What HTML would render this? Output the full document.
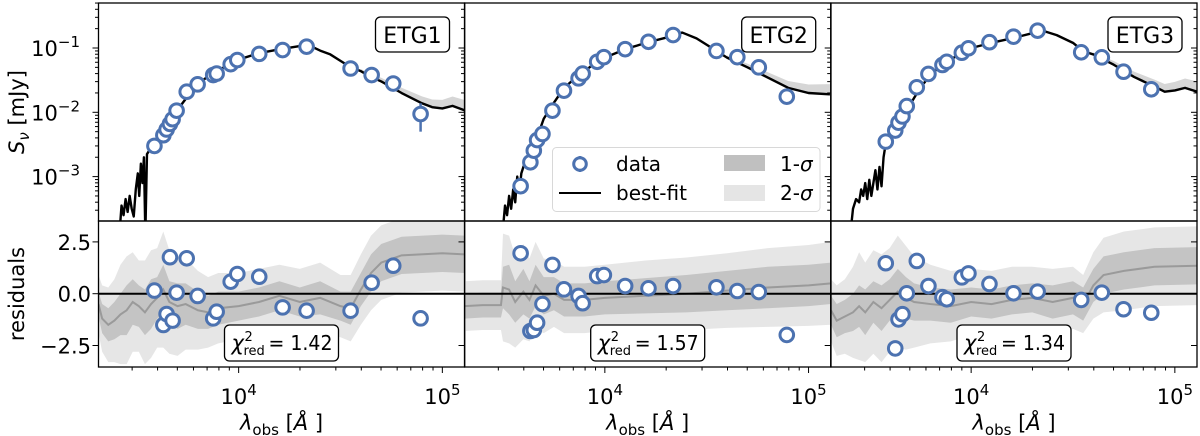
<!DOCTYPE html>
<html><head><meta charset="utf-8">
<style>
html,body{margin:0;padding:0;background:#fff;}
svg{display:block;font-family:"DejaVu Sans","Liberation Sans",sans-serif;}
</style></head>
<body>
<svg id="chart" width="1200" height="436" viewBox="0 0 1200 436" xmlns="http://www.w3.org/2000/svg"></svg>
<script>
// ---------- DATA ----------
const panelNames = ["ETG1","ETG2","ETG3"];
const chiValues = ["1.42","1.57","1.34"];
const xTickLabels = ["4","5"];
const yFluxTickExps = ["−1","−2","−3"];
const yResTickLabels = ["2.5","0.0","−2.5"];
const yResTickValues = [2.5,0,-2.5];

const lam1 = [3860,4270,4430,4600,4740,4960,5560,6290,7500,7800,9140,9850,12620,16440,21560,35450,44970,57400,78200];
const flux1 = [0.0030,0.0044,0.0054,0.0066,0.0078,0.0106,0.0209,0.0272,0.038,0.040,0.056,0.065,0.081,0.093,0.105,0.048,0.038,0.028,0.0094];
const err1 = [0.0002,0.0002,0.0002,0.0002,0.0003,0.0004,0.0006,0.0008,0.001,0.001,0.001,0.001,0.002,0.002,0.002,0.002,0.002,0.003,0.0044];
const res1 = [0.15,-1.51,-0.98,1.76,-1.30,0.05,1.71,-0.11,-1.19,-0.87,0.58,0.95,0.82,-0.66,-0.82,-0.82,0.53,1.35,-1.19];

const lam2 = [3860,4310,4480,4650,4940,5530,6300,7430,7780,9170,9890,12580,16380,21630,35300,44700,57000,78200];
const flux2 = [0.00071,0.00167,0.00253,0.0037,0.0046,0.0106,0.0217,0.0337,0.040,0.061,0.072,0.096,0.125,0.159,0.090,0.072,0.050,0.0175];
const err2 = [0.0001,0.0001,0.0002,0.0002,0.0002,0.0004,0.0006,0.001,0.001,0.001,0.001,0.002,0.002,0.002,0.002,0.002,0.002,0.002];
const res2 = [1.95,-1.80,-1.75,-1.40,-0.50,1.39,0.21,-0.11,-0.46,0.85,0.90,0.37,0.26,0.37,0.31,0.13,0.08,-1.99];

const lam3 = [3810,4240,4400,4600,4830,5410,6170,7230,7590,9000,9700,12300,16140,21200,34700,43800,56000,76600];
const flux3 = [0.0035,0.0052,0.0069,0.0086,0.0125,0.0245,0.0395,0.0545,0.061,0.0845,0.099,0.123,0.150,0.186,0.0857,0.0716,0.0428,0.0228];
const err3 = [0.0003,0.0003,0.0003,0.0003,0.0004,0.0006,0.001,0.001,0.001,0.001,0.001,0.002,0.002,0.002,0.002,0.002,0.002,0.003];
const res3 = [1.47,-2.64,-1.24,-0.99,0.02,1.58,0.37,-0.17,-0.27,0.79,0.98,0.47,0.02,0.10,-0.30,0.05,-0.75,-0.92];

// best-fit model: [log10 lambda, log10 S]
const model1 = [[3.417,-3.8],[3.425,-3.45],[3.435,-3.6],[3.445,-3.35],[3.455,-3.55],[3.465,-3.3],[3.475,-3.5],[3.485,-3.62],[3.495,-3.2],[3.505,-2.95],[3.512,-3.3],[3.52,-2.8],[3.528,-3.1],[3.535,-2.7],[3.542,-3.9],[3.55,-2.65],[3.57,-2.55],[3.6,-2.42],[3.65,-2.2],[3.7,-1.96],[3.75,-1.75],[3.8,-1.56],[3.85,-1.44],[3.9,-1.35],[3.95,-1.26],[4.0,-1.18],[4.1,-1.08],[4.2,-1.02],[4.3,-0.97],[4.34,-0.95],[4.4,-1.04],[4.45,-1.1],[4.5,-1.2],[4.55,-1.3],[4.6,-1.36],[4.65,-1.45],[4.7,-1.52],[4.8,-1.70],[4.9,-1.86],[4.95,-1.92],[5.0,-1.94],[5.05,-1.90],[5.11,-1.97]];
const model2 = [[3.50,-3.8],[3.51,-3.45],[3.52,-3.6],[3.53,-3.3],[3.54,-3.5],[3.55,-3.2],[3.56,-3.4],[3.57,-3.0],[3.58,-3.25],[3.59,-2.95],[3.6,-2.85],[3.62,-2.7],[3.65,-2.55],[3.7,-2.1],[3.75,-1.85],[3.8,-1.62],[3.85,-1.48],[3.9,-1.36],[3.95,-1.24],[4.0,-1.15],[4.1,-1.02],[4.2,-0.92],[4.3,-0.84],[4.38,-0.76],[4.45,-0.85],[4.5,-0.95],[4.55,-1.05],[4.6,-1.15],[4.7,-1.3],[4.8,-1.46],[4.9,-1.62],[5.0,-1.70],[5.105,-1.72]];
const model3 = [[3.41,-3.8],[3.42,-3.5],[3.435,-3.35],[3.45,-3.4],[3.46,-3.2],[3.47,-3.3],[3.48,-3.1],[3.49,-3.35],[3.5,-3.05],[3.51,-3.3],[3.52,-3.1],[3.53,-2.9],[3.54,-3.2],[3.55,-2.85],[3.56,-3.15],[3.57,-2.7],[3.58,-2.5],[3.62,-2.3],[3.65,-2.15],[3.7,-1.88],[3.75,-1.62],[3.8,-1.42],[3.85,-1.28],[3.9,-1.18],[3.95,-1.08],[4.0,-1.0],[4.1,-0.92],[4.2,-0.85],[4.3,-0.77],[4.35,-0.73],[4.42,-0.8],[4.5,-0.92],[4.55,-1.05],[4.6,-1.1],[4.7,-1.26],[4.8,-1.45],[4.9,-1.6],[4.95,-1.68],[5.0,-1.66],[5.05,-1.62],[5.11,-1.68]];

// residual bands: [log10 lambda, median, 1-sigma half width, 2-sigma half width]
const band1 = [[3.312,-0.5,0.6,1.4],[3.33,-1.2,0.7,1.6],[3.36,-1.5,0.8,1.8],[3.39,-1.3,0.9,2.0],[3.42,-1.0,1.0,2.4],[3.45,-0.8,1.2,2.6],[3.48,-0.4,1.1,2.4],[3.51,-0.6,1.0,2.2],[3.54,-0.9,1.1,2.5],[3.57,-0.5,1.2,2.6],[3.6,-0.2,1.0,2.4],[3.63,0.2,1.2,2.8],[3.66,-0.4,1.0,2.5],[3.7,-0.6,1.1,2.4],[3.74,-0.5,1.0,2.2],[3.8,-0.8,0.9,1.9],[3.85,-0.9,0.8,1.7],[3.9,-0.7,0.8,1.7],[4.0,-0.6,0.7,1.6],[4.1,-0.4,0.7,1.6],[4.2,-0.1,0.7,1.5],[4.3,-0.4,0.7,1.6],[4.4,-0.2,0.8,1.7],[4.5,-0.6,0.7,1.5],[4.55,-0.7,0.8,1.6],[4.6,0.2,0.8,1.7],[4.65,1.0,0.9,1.8],[4.7,1.5,0.9,1.8],[4.8,1.85,0.9,1.8],[5.0,1.95,0.9,1.8],[5.11,1.9,0.9,1.8]];
const band2 = [[3.312,-0.6,0.6,1.2],[3.4,-0.55,0.6,1.2],[3.49,-0.55,0.6,1.2],[3.5,0.3,1.0,2.6],[3.53,0.2,1.2,2.6],[3.56,-0.4,1.0,2.2],[3.6,0.1,1.1,2.3],[3.63,-0.3,0.9,2.0],[3.66,0.4,1.0,2.1],[3.7,-0.1,0.9,1.8],[3.75,0.0,0.8,1.6],[3.8,-0.3,0.8,1.6],[3.9,-0.3,0.8,1.6],[4.0,-0.2,0.8,1.6],[4.2,-0.1,0.85,1.7],[4.4,0.0,0.9,1.75],[4.6,0.15,0.95,1.8],[4.8,0.3,1.0,1.9],[5.0,0.4,1.0,1.95],[5.11,0.5,1.0,2.0]];
const band3 = [[3.312,-0.8,0.7,1.5],[3.34,-1.3,0.8,1.7],[3.38,-1.1,0.8,1.8],[3.42,-0.9,0.9,2.2],[3.45,-0.6,1.0,2.6],[3.48,-0.9,1.1,2.4],[3.52,-0.4,1.0,2.5],[3.56,-0.7,1.1,2.6],[3.6,-0.3,1.0,2.5],[3.64,0.1,1.1,2.7],[3.68,-0.2,1.0,2.5],[3.72,-0.4,0.9,2.2],[3.8,-0.5,0.8,1.9],[3.9,-0.6,0.8,1.7],[4.0,-0.4,0.7,1.6],[4.1,-0.5,0.7,1.6],[4.2,-0.3,0.7,1.6],[4.3,-0.2,0.7,1.5],[4.4,-0.4,0.8,1.6],[4.5,-0.2,0.8,1.5],[4.55,-0.5,0.8,1.4],[4.6,0.4,0.8,1.6],[4.65,0.9,0.9,1.8],[4.75,1.1,0.9,1.9],[4.9,1.3,0.9,1.9],[5.11,1.35,0.9,1.9]];

const panelLams = [lam1,lam2,lam3];
const panelFluxes = [flux1,flux2,flux3];
const panelErrs = [err1,err2,err3];
const panelRes = [res1,res2,res3];
const panelModels = [model1,model2,model3];
const panelBands = [band1,band2,band3];

// ---------- LAYOUT ----------
const NS="http://www.w3.org/2000/svg";
const svg=document.getElementById('chart');
const lefts=[98.5,464.7,831];
const PW=366, TOP=3, MID=221, BOT=367;
const LOGMIN=3.312, DEC=203.7;
const blue="#4c72b0";
function xS(p,logl){return lefts[p]+(logl-LOGMIN)*DEC;}
function yF(logs){return 48+(-1-logs)*64.3;}
function yR(r){return 293.7-r*20.72;}
function mk(tag,attrs,parent){const e=document.createElementNS(NS,tag);for(const k in attrs)e.setAttribute(k,attrs[k]);(parent||svg).appendChild(e);return e;}

const defs=mk('defs',{});
for(let p=0;p<3;p++){
  const c1=mk('clipPath',{id:'ct'+p},defs);mk('rect',{x:lefts[p],y:TOP,width:PW,height:MID-TOP},c1);
  const c2=mk('clipPath',{id:'cb'+p},defs);mk('rect',{x:lefts[p],y:MID,width:PW,height:BOT-MID},c2);
}

for(let p=0;p<3;p++){
  const L=lefts[p];
  const g=mk('g',{});
  
  

  const gb=mk('g',{'clip-path':'url(#cb'+p+')'},g);
  
  
  const band=panelBands[p];
  [[3,'#e6e6e6','2-sigma-band'],[2,'#c4c4c4','1-sigma-band']].forEach(([idx,col,name])=>{
    let up=band.map(b=>xS(p,b[0])+','+yR(b[1]+b[idx]));
    let dn=band.slice().reverse().map(b=>xS(p,b[0])+','+yR(b[1]-b[idx]));
    const poly=mk('polygon',{points:up.concat(dn).join(' '),fill:col},gb);
    
    
  });
  const med=mk('polyline',{points:band.map(b=>xS(p,b[0])+','+yR(b[1])).join(' '),fill:'none',stroke:'#9a9a9a','stroke-width':2},gb);
  
  
  const zl=mk('line',{x1:L,x2:L+PW,y1:yR(0),y2:yR(0),stroke:'#000','stroke-width':2},g);
  
  

  const gm=mk('g',{'clip-path':'url(#ct'+p+')'},g);
  const model=panelModels[p];
  const mb=mk('polygon',{points:model.filter(m=>m[0]>4.55).map(m=>xS(p,m[0])+','+yF(m[1]+0.02+(m[0]-4.55)*0.25)).concat(model.filter(m=>m[0]>4.55).reverse().map(m=>xS(p,m[0])+','+yF(m[1]-0.02))).join(' '),fill:'#d6d6d6'},gm);
  
  
  const ml=mk('polyline',{points:model.map(m=>xS(p,m[0])+','+yF(m[1])).join(' '),fill:'none',stroke:'#000','stroke-width':2.4,'stroke-linejoin':'round'},gm);
  
  

  const lams=panelLams[p],fl=panelFluxes[p],er=panelErrs[p],rs=panelRes[p];
  for(let i=0;i<lams.length;i++){
    const x=xS(p,Math.log10(lams[i]));
    const y=yF(Math.log10(fl[i]));
    const lo=Math.max(fl[i]-er[i],1e-5);
    const eb=mk('line',{x1:x,x2:x,y1:yF(Math.log10(fl[i]+er[i])),y2:yF(Math.log10(lo)),stroke:blue,'stroke-width':2.5},g);
    
    
    const c=mk('circle',{cx:x,cy:y,r:6.8,fill:'#fff',stroke:blue,'stroke-width':3},g);
    
    
    const c2=mk('circle',{cx:x,cy:yR(rs[i]),r:6.8,fill:'#fff',stroke:blue,'stroke-width':3},g);
    
    
  }

  mk('rect',{x:L,y:TOP,width:PW,height:MID-TOP,fill:'none',stroke:'#000','stroke-width':1.3},g);
  mk('rect',{x:L,y:MID,width:PW,height:BOT-MID,fill:'none',stroke:'#000','stroke-width':1.3},g);

  for(let d=-4;d<=0;d++){for(let k=1;k<=9;k++){
    const v=Math.log10(k)+d; if(v<-3.69||v>-0.3)continue;
    const y=yF(v), len=k===1?6:3.5;
    mk('line',{x1:L+PW-len,x2:L+PW,y1:y,y2:y,stroke:'#000','stroke-width':1},g);
    if(p===0) mk('line',{x1:L-len,x2:L,y1:y,y2:y,stroke:'#000','stroke-width':1},g);
  }}
  yResTickValues.forEach(v=>{
    mk('line',{x1:L+PW-6,x2:L+PW,y1:yR(v),y2:yR(v),stroke:'#000','stroke-width':1},g);
    if(p===0) mk('line',{x1:L-6,x2:L,y1:yR(v),y2:yR(v),stroke:'#000','stroke-width':1},g);
  });
  for(let d=3;d<=5;d++){for(let k=1;k<=9;k++){
    const v=Math.log10(k)+d; if(v<LOGMIN||v>LOGMIN+PW/DEC)continue;
    const x=xS(p,v), len=k===1?6:3.5;
    mk('line',{x1:x,x2:x,y1:BOT,y2:BOT+len,stroke:'#000','stroke-width':1},g);
  }}
  xTickLabels.forEach(e=>{
    const t=mk('text',{x:xS(p,+e),y:404,'font-size':21,'text-anchor':'middle'},g);
    
    
    t.innerHTML='10<tspan dy="-9" font-size="15">'+e+'</tspan>';
  });
  const xl=mk('text',{x:L+PW/2,y:430,'font-size':21,'text-anchor':'middle'},g);
  
  
  xl.innerHTML='<tspan font-style="italic">λ</tspan><tspan font-size="15" dy="5">obs</tspan><tspan dy="-5"> [</tspan><tspan font-style="italic">Å</tspan> ]';

  const nb=mk('g',{},g);
  
  
  mk('rect',{x:L+PW-89,y:17,width:74,height:35,rx:5,fill:'#fff',stroke:'#000','stroke-width':1.3},nb);
  const nt=mk('text',{x:L+PW-52,y:43,'font-size':22,'text-anchor':'middle'},nb);
  nt.textContent=panelNames[p];

  const cb=mk('g',{},g);
  
  
  const cx0=L+126;
  mk('rect',{x:cx0,y:325,width:114,height:36,rx:5,fill:'#fff',stroke:'#000','stroke-width':1.3},cb);
  const t1=mk('text',{x:cx0+7,y:350,'font-size':21,'font-style':'italic'},cb);
  t1.textContent='χ';
  const t2=mk('text',{x:cx0+20,y:341,'font-size':13},cb);
  t2.textContent='2';
  const t3=mk('text',{x:cx0+19,y:355,'font-size':13},cb);
  t3.textContent='red';
  const t4=mk('text',{x:cx0+44,y:350,'font-size':20,textLength:64,lengthAdjust:'spacingAndGlyphs'},cb);
  t4.textContent='= '+chiValues[p];
}

yFluxTickExps.forEach((e,i)=>{
  const t=mk('text',{x:80,y:yF(-1-i)+8,'font-size':21,'text-anchor':'end'});
  
  
  t.innerHTML='10<tspan dy="-9" font-size="15">'+e+'</tspan>';
});
yResTickLabels.forEach((s,i)=>{
  const t=mk('text',{x:91,y:yR(yResTickValues[i])+8,'font-size':21,'text-anchor':'end'});
  
  
  t.textContent=s;
});
const yt1=mk('text',{x:0,y:0,'font-size':21,'text-anchor':'middle',transform:'translate(24,112) rotate(-90)'});


yt1.innerHTML='<tspan font-style="italic">S</tspan><tspan font-style="italic" font-size="15" dy="5">ν</tspan><tspan dy="-5"> [mJy]</tspan>';
const yt2=mk('text',{x:0,y:0,'font-size':21,'text-anchor':'middle',transform:'translate(24,294) rotate(-90)'});


yt2.textContent='residuals';

const lg=mk('g',{});


mk('rect',{x:552.5,y:147.5,width:267.5,height:64,rx:4,fill:'#fff','fill-opacity':0.85,stroke:'#d8d8d8','stroke-width':1},lg);
mk('line',{x1:580,x2:580,y1:156,y2:172,stroke:blue,'stroke-width':2.5},lg);
const lm=mk('circle',{cx:580,cy:164,r:6.3,fill:'#fff',stroke:blue,'stroke-width':3},lg);


mk('line',{x1:559,x2:601,y1:193,y2:193,stroke:'#000','stroke-width':2},lg);
mk('rect',{x:724,y:155,width:41,height:16,fill:'#c0c0c0'},lg);
mk('rect',{x:724,y:185,width:41,height:16,fill:'#e5e5e5'},lg);
[['data',616,171],['best-fit',616,200]].forEach(([s,x,y])=>{const t=mk('text',{x:x,y:y,'font-size':20},lg);t.textContent=s;});
[['1-',780,171],['2-',780,200]].forEach(([s,x,y])=>{const t=mk('text',{x:x,y:y,'font-size':20},lg);t.innerHTML=s+'<tspan font-style="italic">σ</tspan>';});
</script>
</body></html>
